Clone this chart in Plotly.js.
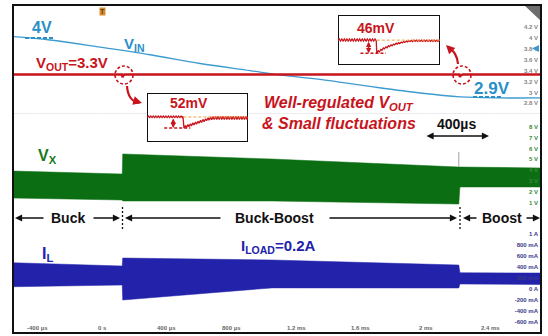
<!DOCTYPE html>
<html><head><meta charset="utf-8">
<script src="https://cdn.plot.ly/plotly-3.0.1.min.js"></script>
<style>html,body{margin:0;padding:0;background:#fff;}#chart{width:548px;height:336px;}</style>
</head><body><div id="chart"></div>
<script>
// ---------- data ----------
const tickTimes = [-400, 0, 400, 800, 1200, 1600, 2000, 2400];               // µs
const tickTimeLabels = ['-400 µs', '0 s', '400 µs', '800 µs', '1.2 ms', '1.6 ms', '2 ms', '2.4 ms'];

const topVoltTicks = [2.8, 3, 3.2, 3.4, 3.6, 3.8, 4, 4.2];
const topVoltLabels = ['2.8 V', '3 V', '3.2 V', '3.4 V', '3.6 V', '3.8 V', '4 V', '4.2 V'];
const vxTicks = [1, 2, 3, 4, 5, 6, 7, 8];
const vxLabels = ['1 V', '2 V', '3 V', '4 V', '5 V', '6 V', '7 V', '8 V'];
const ilTicks = [-600, -400, -200, 0, 200, 400, 600, 800, 1000];
const ilLabels = ['-600 mA', '-400 mA', '-200 mA', '0 A', '200 mA', '400 mA', '600 mA', '800 mA', '1 A'];

// VIN (V) vs time (µs)
const vinTime  = [-550, -321, -12, 297, 606, 915, 1100, 1347, 1656, 1965, 2212, 2460, 2713];
const vinVolts = [4.02, 3.96, 3.83, 3.69, 3.53, 3.40, 3.32, 3.24, 3.11, 2.99, 2.92, 2.90, 2.90];

// VOUT (V)
const voutTime  = [-550, 118, 124, 127, 131, 140, 2200, 2208, 2212, 2216, 2230, 2713];
const voutVolts = [3.33, 3.33, 3.33, 3.278, 3.31, 3.33, 3.33, 3.33, 3.284, 3.31, 3.33, 3.33];

// VX switching envelope (V)
const vxTime = [-550, 125, 128, 1050, 2205, 2212, 2713];
const vxHigh = [3.93, 3.66, 5.49, 5.03, 4.30, 4.30, 4.21];
const vxLow  = [1.46, 1.28, 1.19, 1.19, 0.91, 2.47, 2.47];
const vxSpikeTime = [2205, 2205];
const vxSpikeVolts = [4.30, 5.67];

// IL envelope (mA)
const ilTime = [-550, 125, 128, 1050, 2205, 2212, 2713];
const ilHigh = [481, 421, 567, 531, 439, 298, 293];
const ilLow  = [42, 73, -201, 20, 18, 92, 82];

// Inset 1 (zoom of VOUT at Buck -> Buck-Boost), mV relative to steady level
const inset1X = [0,1.25,2.5,3.75,5,6.25,7.5,8.75,10,11.25,12.5,13.75,15,16.25,17.5,18.75,20,21.25,22.5,23.75,25,26.25,27.5,28.75,30,31.25,32.5,33.75,35,
  35.6,36.6,38,39,40.5,41.5,43,44,45.5,46.5,48,49,50.5,51.5,53,54,55.5,56.5,58,59,60.5,61.5,63,64,65.5,66.5,68,69,70.5,71.5,73,74,75.5,76.5,78,79,80.5,81.5,83,84,85.5,86.5,88,89,90.5,91.5,93,94,95.5,96.5,98,99,100];
const inset1Y = [-3,4,-3,4,-3,4,-3,4,-3,4,-3,4,-3,4,-3,4,-3,4,-3,4,-3,4,-3,4,-3,4,-3,4,-3,
  3,-52,-40,-50,-36,-46,-32,-42,-28,-38,-24,-34,-20,-30,-16,-26,-12,-22,-8,-18,-4,-15,0,-13,2,-12,3,-12,3,-12,3,-12,3,-12,3,-12,3,-12,3,-12,3,-12,3,-12,3,-12,3,-12,3,-12,3,-12,3];

// Inset 2 (zoom of VOUT at Buck-Boost -> Boost), mV
const inset2X = [0,1.25,2.5,3.75,5,6.25,7.5,8.75,10,11.25,12.5,13.75,15,16.25,17.5,18.75,20,21.25,22.5,23.75,25,26.25,27.5,28.75,30,31.25,32.5,33.75,35,36.25,37.5,
  38,39.5,40.5,42,43,44.5,45.5,47,48,49.5,50.5,52,53,54.5,55.5,57,58,59.5,60.5,62,63,64.5,65.5,67,68,69.5,70.5,72,73,74.5,75.5,77,78,79.5,80.5,82,83,84.5,85.5,87,88,89.5,90.5,92,93,94.5,95.5,97,98,99.5];
const inset2Y = [-3,4,-3,4,-3,4,-3,4,-3,4,-3,4,-3,4,-3,4,-3,4,-3,4,-3,4,-3,4,-3,4,-3,4,-3,4,-3,
  -46,-38,-42,-33,-36,-28,-31,-24,-27,-20,-23,-17,-20,-14,-17,-11,-14,-9,-12,-7,-10,-5,-8,-3,-6,-2,-5,-1,-5,0,-4,0,-4,0,-4,0,-4,0,-4,0,-4,0,-4,0,-4,0,-4,0,-4,0];

// ---------- styling / geometry ----------
const FONT = 'Liberation Sans, Arial, sans-serif';
const L = 13, R = 541, T = 5, B = 333;
const px = x => (x - L) / (R - L);
const py = y => (B - y) / (B - T);
const RED = '#c8141c', BLUE = '#3d9bd0', GREEN = '#0b6e13', NAVY = '#2222aa', TXTBLUE = '#2a8fc8';
const TIME_RANGE = [-550, 2713];

const traces = [
  {x: vxTime, y: vxLow, xaxis: 'x2', yaxis: 'y3', mode: 'lines', line: {width: 0.5, color: GREEN}, hoverinfo: 'skip'},
  {x: vxTime, y: vxHigh, xaxis: 'x2', yaxis: 'y3', mode: 'lines', line: {width: 0.5, color: GREEN}, fill: 'tonexty', fillcolor: GREEN, hoverinfo: 'skip'},
  {x: vxSpikeTime, y: vxSpikeVolts, xaxis: 'x2', yaxis: 'y3', mode: 'lines', line: {width: 1, color: '#a0a0a0'}},
  {x: ilTime, y: ilLow, xaxis: 'x2', yaxis: 'y4', mode: 'lines', line: {width: 0.5, color: NAVY}, hoverinfo: 'skip'},
  {x: ilTime, y: ilHigh, xaxis: 'x2', yaxis: 'y4', mode: 'lines', line: {width: 0.5, color: NAVY}, fill: 'tonexty', fillcolor: NAVY, hoverinfo: 'skip'},
  {x: vinTime, y: vinVolts, xaxis: 'x2', yaxis: 'y2', mode: 'lines', line: {width: 1.3, color: BLUE, shape: 'spline'}},
  {x: voutTime, y: voutVolts, xaxis: 'x2', yaxis: 'y2', mode: 'lines', line: {width: 2.5, color: RED}},
  {x: inset1X, y: inset1Y, xaxis: 'x5', yaxis: 'y5', mode: 'lines', line: {width: 1.3, color: RED}},
  {x: inset2X, y: inset2Y, xaxis: 'x6', yaxis: 'y6', mode: 'lines', line: {width: 1.3, color: RED}}
];

const panelAxis = (domain, range, vals, text, color) => ({
  domain: domain, anchor: 'x2', side: 'right', range: range, tickvals: vals, ticktext: text,
  ticklabelposition: 'inside', ticks: '', showgrid: false, zeroline: false, showline: false,
  tickfont: {family: FONT, size: 6, color: color, weight: 'bold'}, fixedrange: true
});

const ann = (x, y, text, size, color, extra) => Object.assign({
  xref: 'paper', yref: 'paper', x: px(x), y: py(y), text: text, showarrow: false,
  xanchor: 'center', yanchor: 'middle', font: {family: FONT, size: size, color: color}
}, extra || {});

const arrow = (xt, y, axo, extra) => Object.assign({
  xref: 'paper', yref: 'paper', x: px(xt), y: py(y), ax: axo, ay: 0, text: '',
  showarrow: true, arrowhead: 2, arrowsize: 1.1, arrowwidth: 1.3, arrowcolor: '#111'
}, extra || {});

// time tick labels, placed on the time axis scale
const timeTickLabels = tickTimes.map((t, i) => ({
  xref: 'x', yref: 'paper', x: t, y: py(328), text: tickTimeLabels[i], showarrow: false,
  xanchor: 'center', yanchor: 'middle', font: {family: FONT, size: 6, color: '#666', weight: 'bold'}
}));

const annotations = timeTickLabels.concat([
  ann(42, 28, '<b>4V</b>', 16, TXTBLUE),
  ann(134, 44, '<b>V<sub>IN</sub></b>', 15, TXTBLUE),
  ann(71.5, 63, '<b>V<sub>OUT</sub>=3.3V</b>', 15, RED),
  ann(189, 103, '<b>52mV</b>', 14, RED),
  ann(376, 28, '<b>46mV</b>', 14, RED),
  ann(339, 103, '<b><i>Well-regulated V<sub>OUT</sub></i></b>', 16, RED),
  ann(339, 123, '<b><i>&amp; Small fluctuations</i></b>', 16, RED),
  ann(456, 124, '<b>400µs</b>', 14, '#111'),
  ann(492, 88, '<b>2.9V</b>', 17, TXTBLUE),
  ann(47, 156, '<b>V<sub>X</sub></b>', 16, '#177a17'),
  ann(47, 254.5, '<b>I<sub>L</sub></b>', 16, NAVY),
  ann(278, 246, '<b>I<sub>LOAD</sub>=0.2A</b>', 15, NAVY),
  ann(68, 218, '<b>Buck</b>', 14, '#111'),
  ann(274, 218, '<b>Buck-Boost</b>', 14, '#111'),
  ann(502, 218, '<b>Boost</b>', 14, '#111'),
  ann(102, 11, 'T', 7, '#222', {bgcolor: '#d98c2b', borderpad: 0}),
  // mode arrows
  arrow(15, 218, 30), arrow(120, 218, -28), arrow(125, 218, 97), arrow(457, 218, -129),
  arrow(463, 218, 15), arrow(540, 218, -15),
  arrow(489, 136, -64, {arrowside: 'end+start'}),
  // curved arrow heads
  arrow(142, 103, -7, {ay: -2, arrowcolor: RED, arrowwidth: 2.2, arrowsize: 0.8}),
  arrow(446, 45, 5, {ay: 5, arrowcolor: RED, arrowwidth: 2.2, arrowsize: 0.8}),
  // inset dip arrows
  {xref: 'x5', yref: 'y5', x: 26, y: -52, axref: 'x5', ayref: 'y5', ax: 26, ay: 0, text: '', showarrow: true,
   arrowside: 'end+start', arrowhead: 2, arrowsize: 0.7, arrowwidth: 1.5, arrowcolor: RED},
  {xref: 'x6', yref: 'y6', x: 30, y: -46, axref: 'x6', ayref: 'y6', ax: 30, ay: 0, text: '', showarrow: true,
   arrowside: 'end+start', arrowhead: 2, arrowsize: 0.7, arrowwidth: 1.5, arrowcolor: RED}
]);

const shapes = [
  // inset boxes (white fill hides the main grid)
  {type: 'rect', xref: 'x5', yref: 'y5', x0: 0, x1: 100, y0: -118, y1: 113, fillcolor: '#fff', line: {color: '#111', width: 2}, layer: 'below'},
  {type: 'rect', xref: 'x6', yref: 'y6', x0: 0, x1: 100, y0: -88, y1: 89, fillcolor: '#fff', line: {color: '#111', width: 2}, layer: 'below'},
  // inset reference & dip-level lines
  {type: 'line', xref: 'x5', yref: 'y5', x0: 36, x1: 100, y0: 0, y1: 0, line: {color: '#f0a040', width: 1, dash: '3px,2px'}},
  {type: 'line', xref: 'x5', yref: 'y5', x0: 17, x1: 43, y0: -52, y1: -52, line: {color: RED, width: 1.5, dash: '3px,2px'}},
  {type: 'line', xref: 'x6', yref: 'y6', x0: 38, x1: 100, y0: 0, y1: 0, line: {color: '#f0a040', width: 1, dash: '3px,2px'}},
  {type: 'line', xref: 'x6', yref: 'y6', x0: 22, x1: 47, y0: -46, y1: -46, line: {color: RED, width: 1.5, dash: '3px,2px'}},
  // trigger time line and 0 A line
  {type: 'line', xref: 'x', yref: 'paper', x0: 0, x1: 0, y0: 0, y1: 1, line: {color: '#a8a8a8', width: 1, dash: '3px,2px'}, layer: 'below'},
  {type: 'line', xref: 'paper', yref: 'y4', x0: 0, x1: 1, y0: 0, y1: 0, line: {color: '#a0a0a0', width: 1, dash: '3px,2px'}, layer: 'below'},
  // panel separator
  {type: 'line', xref: 'paper', yref: 'paper', x0: 0, x1: 1, y0: py(113.5), y1: py(113.5), line: {color: '#b0b0b0', width: 1.2}, layer: 'below'},
  // dashed level marks 4V / 2.9V
  {type: 'line', xref: 'paper', yref: 'paper', x0: px(25), x1: px(53), y0: py(38), y1: py(38), line: {color: TXTBLUE, width: 2, dash: '4px,2px'}},
  {type: 'line', xref: 'paper', yref: 'paper', x0: px(473), x1: px(503), y0: py(97), y1: py(97), line: {color: TXTBLUE, width: 2, dash: '4px,2px'}},
  // red dashed circles
  {type: 'circle', xref: 'paper', yref: 'paper', x0: px(115), x1: px(133), y0: py(84), y1: py(66), line: {color: RED, width: 1.6, dash: '3px,2px'}},
  {type: 'circle', xref: 'paper', yref: 'paper', x0: px(453), x1: px(471), y0: py(84), y1: py(66), line: {color: RED, width: 1.6, dash: '3px,2px'}},
  // curved arrows
  {type: 'path', xref: 'paper', yref: 'paper', path: `M ${px(127)} ${py(86)} Q ${px(128)} ${py(101)} ${px(139)} ${py(103)}`, line: {color: RED, width: 2.2}},
  {type: 'path', xref: 'paper', yref: 'paper', path: `M ${px(458)} ${py(64)} Q ${px(457)} ${py(52)} ${px(448)} ${py(47)}`, line: {color: RED, width: 2.2}},
  // mode boundary markers
  {type: 'line', xref: 'paper', yref: 'paper', x0: px(122.5), x1: px(122.5), y0: py(207), y1: py(229), line: {color: '#111', width: 1.3, dash: '2px,2px'}},
  {type: 'line', xref: 'paper', yref: 'paper', x0: px(460), x1: px(460), y0: py(207), y1: py(229), line: {color: '#111', width: 1.3, dash: '2px,2px'}},
  // top-right corner badge
  {type: 'path', xref: 'paper', yref: 'paper', path: `M ${px(524)} ${py(5)} L ${px(541)} ${py(5)} L ${px(541)} ${py(21)} Z`, fillcolor: '#6e6e6e', line: {width: 0}},
  // VIN channel marker
  {type: 'path', xref: 'paper', yref: 'paper', path: `M ${px(532)} ${py(48.5)} L ${px(539)} ${py(45)} L ${px(539)} ${py(52)} Z`, fillcolor: BLUE, line: {width: 0}},
  // screen frame
  {type: 'rect', xref: 'paper', yref: 'paper', x0: 0, x1: 1, y0: 0, y1: 1, line: {color: '#111', width: 2}, layer: 'above'}
];

const layout = {
  width: 548, height: 336,
  margin: {l: 13, r: 7, t: 5, b: 3, pad: 0},
  paper_bgcolor: '#fff', plot_bgcolor: '#fff',
  showlegend: false,
  font: {family: FONT},
  // time axis: vertical grid
  xaxis: {
    anchor: 'y', range: TIME_RANGE, tickvals: tickTimes, showticklabels: false, ticks: '',
    showgrid: true, gridcolor: '#c4c4c4', griddash: '1px,1.7px', gridwidth: 1,
    zeroline: false, showline: false, fixedrange: true
  },
  // screen divisions (grid only, dotted rows)
  yaxis: {
    anchor: 'x', range: [0, 30], dtick: 1, tick0: 0, showticklabels: false, ticks: '',
    showgrid: true, gridcolor: '#a8a8a8', griddash: '0px,11.2px,1.7px,0.04px', gridwidth: 1.5,
    zeroline: false, showline: false, fixedrange: true
  },
  // time axis used by the waveforms (same scale, hidden)
  xaxis2: {anchor: 'y2', range: TIME_RANGE, visible: false, showgrid: false, zeroline: false, fixedrange: true},
  yaxis2: panelAxis([py(113.5), 1], [2.615, 4.6], topVoltTicks, topVoltLabels, '#858585'),
  yaxis3: panelAxis([py(230), py(113.5)], [-1.464, 9.195], vxTicks, vxLabels, '#3a8a3a'),
  yaxis4: panelAxis([0, py(230)], [-805, 1080], ilTicks, ilLabels, '#3a3a8a'),
  xaxis5: {domain: [px(147), px(248)], anchor: 'y5', range: [0, 100], visible: false, fixedrange: true},
  yaxis5: {domain: [py(142), py(93)], anchor: 'x5', range: [-118, 113], visible: false, fixedrange: true},
  xaxis6: {domain: [px(338), px(440)], anchor: 'y6', range: [0, 100], visible: false, fixedrange: true},
  yaxis6: {domain: [py(65), py(15)], anchor: 'x6', range: [-88, 89], visible: false, fixedrange: true},
  annotations: annotations,
  shapes: shapes
};

Plotly.newPlot('chart', traces, layout, {staticPlot: true, displayModeBar: false});
</script>
</body></html>
